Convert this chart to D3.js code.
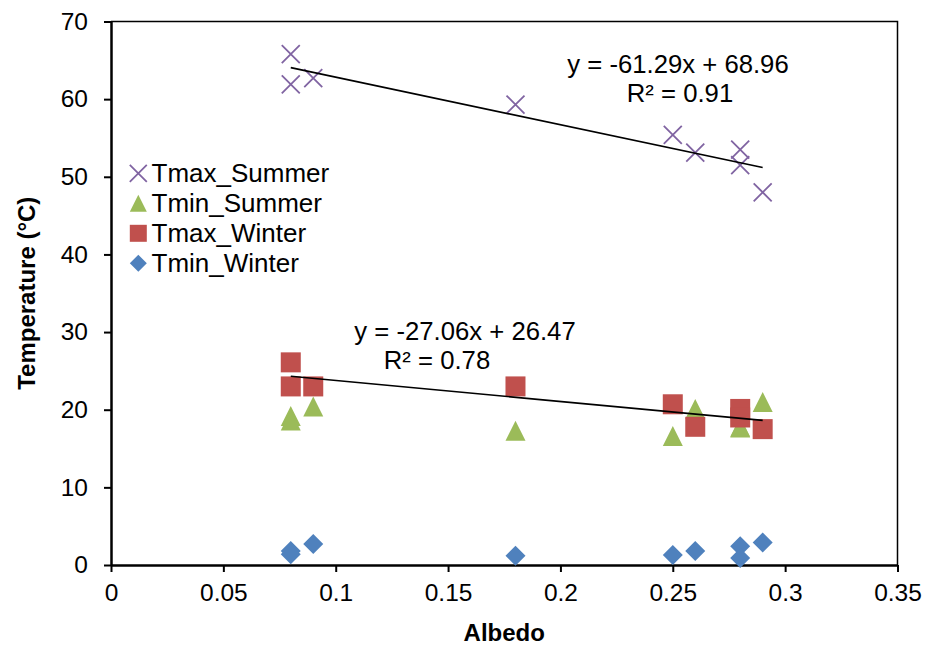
<!DOCTYPE html>
<html><head><meta charset="utf-8">
<script src="https://cdn.jsdelivr.net/npm/d3@7"></script>
<style>body{margin:0;background:#fff}svg{display:block;font-family:"Liberation Sans",Arial,sans-serif}</style>
</head><body>
<svg id="c" width="925" height="646"></svg>
<script>
const albedo = [0.08, 0.08, 0.09, 0.18, 0.25, 0.26, 0.28, 0.28, 0.29];
const tmaxSummer = [65.8, 61.9, 62.7, 59.3, 55.4, 53.1, 53.5, 51.5, 48.0];
const tminSummer = [19.2, 18.6, 20.4, 17.3, 16.6, 20.1, 17.8, 17.7, 21.0];
const tmaxWinter = [26.1, 23.0, 23.0, 23.0, 20.7, 17.8, 20.1, 19.0, 17.5];
const tminWinter = [1.8, 1.4, 2.7, 1.2, 1.3, 1.8, 2.4, 0.9, 2.9];
const xTicks = [0, 0.05, 0.1, 0.15, 0.2, 0.25, 0.3, 0.35];
const yTicks = [0, 10, 20, 30, 40, 50, 60, 70];
const trendSummer = {slope: -61.29, intercept: 68.96, label: ["y = -61.29x + 68.96", "R² = 0.91"]};
const trendWinter = {slope: -27.06, intercept: 26.47, label: ["y = -27.06x + 26.47", "R² = 0.78"]};
const seriesNames = ["Tmax_Summer", "Tmin_Summer", "Tmax_Winter", "Tmin_Winter"];
const colors = ["#8064A2", "#9BBB59", "#C0504D", "#4F81BD"];

const svg = d3.select("#c");
const L = 111, R = 897.5, T = 21.5, B = 565;
const x = d3.scaleLinear().domain([0, 0.35]).range([L, R]);
const y = d3.scaleLinear().domain([0, 70]).range([B, T]);

// frame top/right
svg.append("path").attr("d", `M${L},${T}H${R}V${B}`).attr("fill","none").attr("stroke","#000").attr("stroke-width",1.5);

const fs = 24.5;
const xAxis = svg.append("g").attr("transform", `translate(0,${B})`)
  .call(d3.axisBottom(x).tickValues(xTicks).tickFormat(d => d3.format("")(+d.toFixed(2))).tickSize(7).tickSizeOuter(0).tickPadding(12));
const yAxis = svg.append("g").attr("transform", `translate(${L},0)`)
  .call(d3.axisLeft(y).tickValues(yTicks).tickSize(7).tickSizeOuter(0).tickPadding(16));
[xAxis, yAxis].forEach(g => {
  g.select(".domain").attr("stroke","#000").attr("stroke-width",2.5);
  g.selectAll(".tick line").attr("stroke","#000").attr("stroke-width",2);
  g.selectAll("text").attr("font-size", fs).attr("fill","#000").attr("font-family","Liberation Sans, Arial, sans-serif");
});

// axis titles
svg.append("text").attr("x", (L+R)/2).attr("y", 641).attr("text-anchor","middle")
  .attr("font-size", 24).attr("font-weight","bold").text("Albedo");
svg.append("text").attr("transform", `translate(35,${(T+B)/2}) rotate(-90)`).attr("text-anchor","middle")
  .attr("font-size", 24).attr("font-weight","bold").text("Temperature (°C)");

// marker shapes
function marker(g, type, cx, cy, s, color) {
  const h = s/2;
  if (type === 0) {
    g.append("path").attr("d", `M${cx-h},${cy-h}L${cx+h},${cy+h}M${cx-h},${cy+h}L${cx+h},${cy-h}`)
      .attr("stroke", color).attr("stroke-width", 1.8).attr("fill","none");
  } else if (type === 1) {
    g.append("path").attr("d", `M${cx},${cy-h}L${cx+h},${cy+h}L${cx-h},${cy+h}Z`).attr("fill", color);
  } else if (type === 2) {
    g.append("rect").attr("x", cx-h).attr("y", cy-h).attr("width", s).attr("height", s).attr("fill", color);
  } else {
    g.append("path").attr("d", `M${cx},${cy-h}L${cx+h},${cy}L${cx},${cy+h}L${cx-h},${cy}Z`).attr("fill", color);
  }
}

const pts = svg.append("g");
const allSeries = [tmaxSummer, tminSummer, tmaxWinter, tminWinter];
[1, 2, 3, 0].forEach(si => {
  allSeries[si].forEach((v, i) => marker(pts, si, x(albedo[i]), y(v), si === 0 ? 18 : 20, colors[si]));
});

// trend lines
[trendSummer, trendWinter].forEach(t => {
  const x0 = d3.min(albedo), x1 = d3.max(albedo);
  svg.append("line").attr("x1", x(x0)).attr("y1", y(t.slope*x0 + t.intercept))
    .attr("x2", x(x1)).attr("y2", y(t.slope*x1 + t.intercept)).attr("stroke","#000").attr("stroke-width",1.6);
});

// trend labels
const lab = [
  {t: trendSummer.label[0], cx: 678, by: 73},
  {t: trendSummer.label[1], cx: 680, by: 101.5},
  {t: trendWinter.label[0], cx: 465, by: 340},
  {t: trendWinter.label[1], cx: 437, by: 369}
];
lab.forEach(d => svg.append("text").attr("x", d.cx).attr("y", d.by).attr("text-anchor","middle")
  .attr("font-size", 25.7).attr("fill","#000").text(d.t));

// legend
const legY = [173.3, 203.3, 233.3, 263.3];
seriesNames.forEach((n, i) => {
  marker(svg, i, 138.3, legY[i], 17, colors[i]);
  svg.append("text").attr("x", 151.5).attr("y", legY[i]).attr("dy", "0.35em")
    .attr("font-size", 26).attr("fill","#000").text(n);
});
</script>
</body></html>
